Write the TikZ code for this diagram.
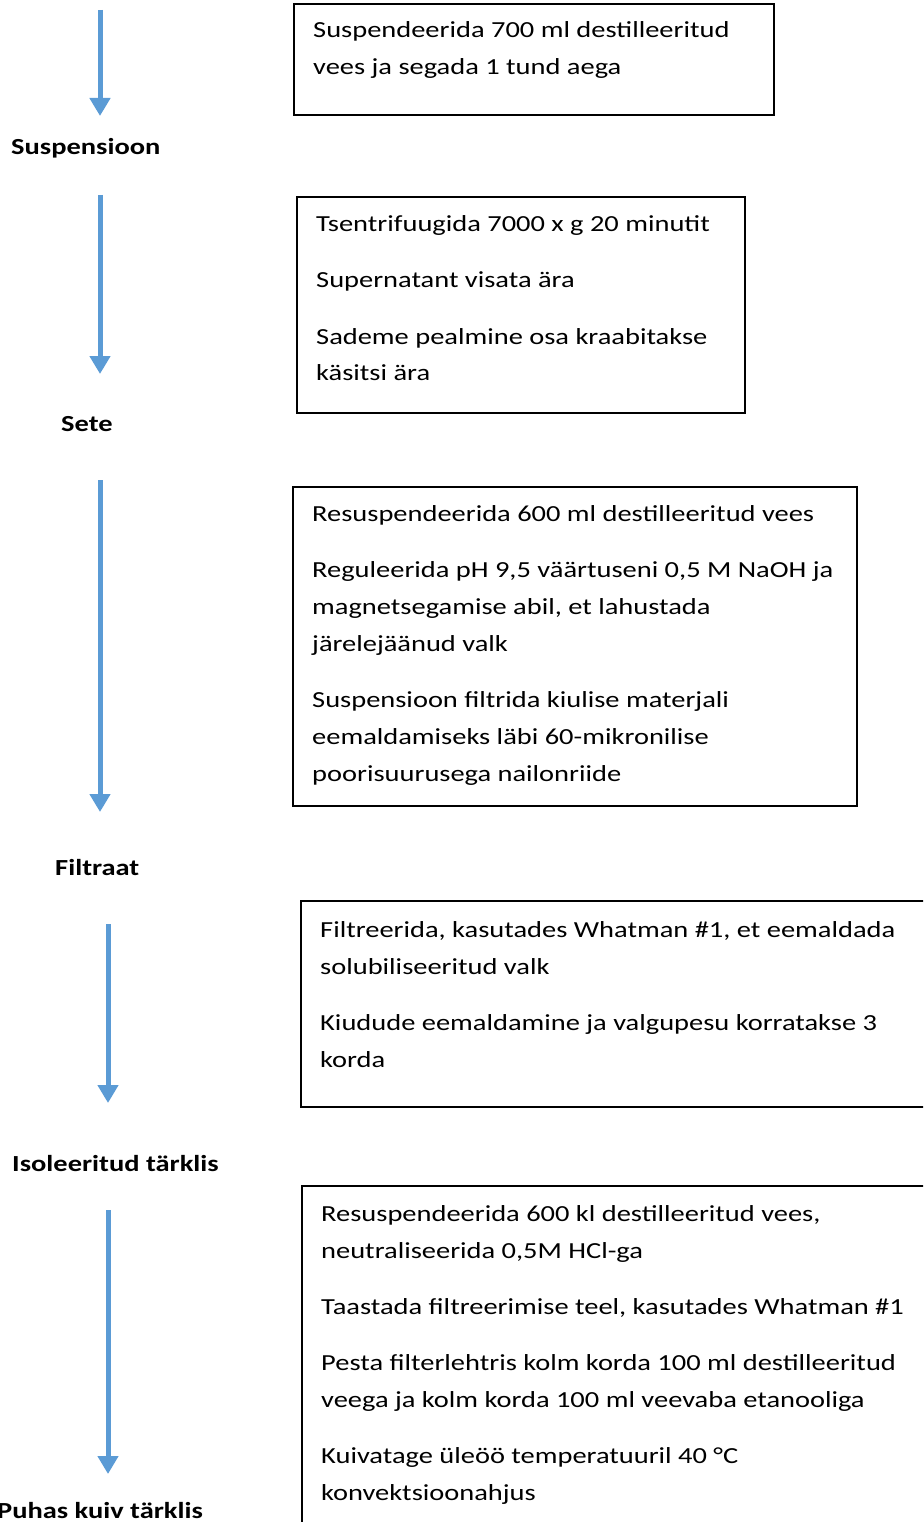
\documentclass[tikz,border=0pt]{standalone}
\usepackage{fontspec}
\setmainfont{Carlito}[FakeStretch=1.237]
\usetikzlibrary{arrows.meta}
\definecolor{flowblue}{HTML}{5B9BD5}
\begin{document}
\begin{tikzpicture}[x=1pt,y=-1pt,
  stepbox/.style={draw=black, line width=1.8pt, rectangle, inner sep=0pt, anchor=north west},
  steptext/.style={anchor=base west, inner sep=0pt, font=\fontsize{23}{37}\selectfont},
  stagelabel/.style={anchor=base west, inner sep=0pt, font=\fontsize{23}{37}\selectfont\bfseries},
  flowarrow/.style={draw=flowblue, line width=5pt, -{Triangle[width=20pt,length=18pt]}}]
\useasboundingbox (0,0) rectangle (923,1522);
\clip (0,0) rectangle (923,1522);

% boxes
\node[stepbox, minimum width=480pt, minimum height=111pt] (b1) at (293,3) {};
\node[stepbox, minimum width=448pt, minimum height=216pt] (b2) at (296,196) {};
\node[stepbox, minimum width=564pt, minimum height=319pt] (b3) at (292,486) {};
\node[stepbox, minimum width=660pt, minimum height=206pt] (b4) at (300,900) {};
\node[stepbox, minimum width=660pt, minimum height=360pt] (b5) at (301,1185) {};

% box texts
\node[steptext] (t1) at (313,38) {\parbox[t]{600pt}{Suspendeerida 700 ml destilleeritud\\vees ja segada 1 tund aega}};
\node[steptext] (t2) at (316,232) {\parbox[t]{600pt}{Tsentrifuugida 7000 x g 20 minutit\\[19pt]Supernatant visata ära\\[19pt]Sademe pealmine osa kraabitakse\\käsitsi ära}};
\node[steptext] (t3) at (312,521) {\parbox[t]{600pt}{Resuspendeerida 600 ml destilleeritud vees\\[19pt]Reguleerida pH 9,5 väärtuseni 0,5 M NaOH ja\\magnetsegamise abil, et lahustada\\järelejäänud valk\\[19pt]Suspensioon filtrida kiulise materjali\\eemaldamiseks läbi 60-mikronilise\\poorisuurusega nailonriide}};
\node[steptext] (t4) at (320,937) {\parbox[t]{650pt}{Filtreerida, kasutades Whatman \#1, et eemaldada\\solubiliseeritud valk\\[19pt]Kiudude eemaldamine ja valgupesu korratakse 3\\korda}};
\node[steptext] (t5) at (321,1221) {\parbox[t]{650pt}{Resuspendeerida 600 kl destilleeritud vees,\\neutraliseerida 0,5M HCl-ga\\[19pt]Taastada filtreerimise teel, kasutades Whatman \#1\\[19pt]Pesta filterlehtris kolm korda 100 ml destilleeritud\\veega ja kolm korda 100 ml veevaba etanooliga\\[19pt]Kuivatage üleöö temperatuuril 40 °C\\konvektsioonahjus}};

% stage labels
\node[stagelabel] (l1) at (11,155) {Suspensioon};
\node[stagelabel] (l2) at (61,431) {Sete};
\node[stagelabel] (l3) at (55,875) {Filtraat};
\node[stagelabel] (l4) at (12,1171) {Isoleeritud tärklis};
\node[stagelabel] (l5) at (-3,1518) {Puhas kuiv tärklis};

% arrows
\coordinate (a1s) at (100,10);   \coordinate (a1e) at (100,116);
\coordinate (a2s) at (100,195);  \coordinate (a2e) at (100,374);
\coordinate (a3s) at (100,480);  \coordinate (a3e) at (100,812);
\coordinate (a4s) at (108,924);  \coordinate (a4e) at (108,1103);
\coordinate (a5s) at (108,1210); \coordinate (a5e) at (108,1474);
\draw[flowarrow] (a1s) -- (a1e);
\draw[flowarrow] (a2s) -- (a2e);
\draw[flowarrow] (a3s) -- (a3e);
\draw[flowarrow] (a4s) -- (a4e);
\draw[flowarrow] (a5s) -- (a5e);
\end{tikzpicture}
\end{document}
